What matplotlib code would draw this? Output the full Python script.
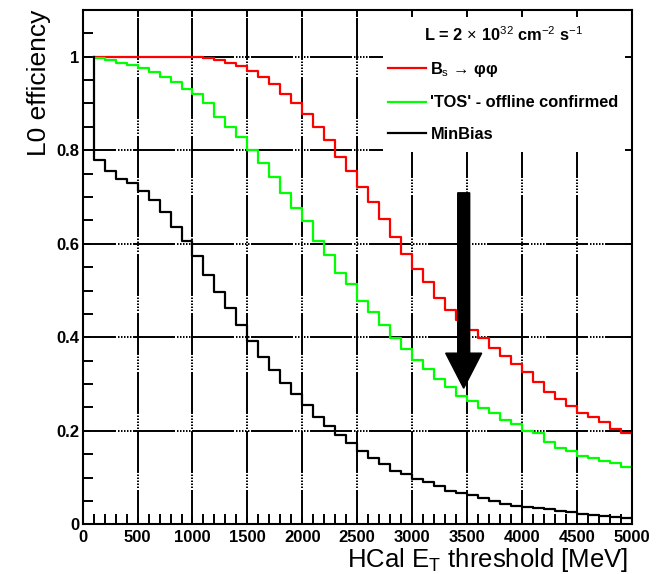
import numpy as np
import matplotlib
matplotlib.use("Agg")
import matplotlib.pyplot as plt
from matplotlib.patches import Rectangle, FancyArrow
from matplotlib.lines import Line2D

plt.rcParams["font.family"] = ["Liberation Sans", "DejaVu Sans"]
plt.rcParams["mathtext.fontset"] = "custom"
plt.rcParams["mathtext.rm"] = "Liberation Sans"
plt.rcParams["mathtext.it"] = "Liberation Sans:italic"
plt.rcParams["mathtext.bf"] = "Liberation Sans:bold"
plt.rcParams["lines.scale_dashes"] = False

# HCal E_T threshold, lower bin edge [MeV]
thresholds = np.arange(100, 5000, 100)

# Bs -> phi phi
eff_bs = [1.0, 1.0, 1.0, 1.0, 1.0, 1.0, 1.0, 1.0, 1.0, 1.0,
          0.998, 0.993, 0.987, 0.980, 0.969, 0.956, 0.941, 0.920, 0.900, 0.877,
          0.849, 0.821, 0.785, 0.756, 0.722, 0.690, 0.653, 0.614, 0.578, 0.545,
          0.519, 0.483, 0.459, 0.437, 0.416, 0.399, 0.378, 0.360, 0.343, 0.326,
          0.305, 0.284, 0.268, 0.254, 0.238, 0.230, 0.218, 0.204, 0.196]

# 'TOS' - offline confirmed
eff_tos = [0.998, 0.992, 0.987, 0.983, 0.976, 0.967, 0.956, 0.945, 0.932, 0.920,
           0.901, 0.872, 0.849, 0.828, 0.800, 0.772, 0.743, 0.709, 0.677, 0.649,
           0.606, 0.577, 0.537, 0.514, 0.478, 0.453, 0.426, 0.398, 0.374, 0.351,
           0.332, 0.311, 0.293, 0.274, 0.264, 0.248, 0.237, 0.223, 0.214, 0.199,
           0.195, 0.177, 0.164, 0.157, 0.146, 0.142, 0.136, 0.132, 0.122]

# MinBias
eff_mb = [0.779, 0.756, 0.738, 0.729, 0.713, 0.694, 0.667, 0.636, 0.605, 0.574,
          0.534, 0.497, 0.462, 0.427, 0.391, 0.358, 0.330, 0.302, 0.278, 0.255,
          0.230, 0.210, 0.191, 0.173, 0.157, 0.142, 0.130, 0.115, 0.107, 0.097,
          0.091, 0.082, 0.071, 0.066, 0.062, 0.056, 0.050, 0.044, 0.040, 0.038,
          0.035, 0.032, 0.029, 0.026, 0.023, 0.020, 0.018, 0.016, 0.014]

series = [
    (eff_bs, "#ff0000", r"B$_{\rm s}$ → φφ"),
    (eff_tos, "#00ff00", "'TOS' - offline confirmed"),
    (eff_mb, "black", "MinBias"),
]

x_major = [0, 500, 1000, 1500, 2000, 2500, 3000, 3500, 4000, 4500, 5000]
y_major = [0, 0.2, 0.4, 0.6, 0.8, 1.0]
y_labels = ["0", "0.2", "0.4", "0.6", "0.8", "1"]

# arrow marking the chosen threshold
arrow_x = 3470
arrow_top = 0.709
arrow_tip = 0.291

PT = 0.72  # px -> pt at dpi 100
grid_dash = (24 * PT, [1.5 * PT, 1.5 * PT] * 5 + [42 * PT, 2 * PT])
grid_dash_v = (23 * PT, [1.5 * PT, 1.5 * PT] * 5 + [42 * PT, 2 * PT])

fig = plt.figure(figsize=(6.6, 5.74), dpi=100)
ax = fig.add_axes([0.1253, 0.0866, 0.8318, 0.896])
ax.set_xlim(0, 5000)
ax.set_ylim(0, 1.1)

# grid, ROOT style
for xv in x_major[1:-1]:
    ax.axvline(xv, color="black", lw=1.4, linestyle=grid_dash_v, zorder=1)
for yv in y_major[1:]:
    ax.axhline(yv, color="black", lw=1.4, linestyle=grid_dash, zorder=1)

# white legend pad hides the grid under it
ax.add_patch(Rectangle((0.547, 0.724), 0.453, 0.276, transform=ax.transAxes,
                       facecolor="white", edgecolor="none", zorder=1.5))

for vals, col, lab in series:
    xs = np.concatenate([[thresholds[0]], thresholds, [5000]])
    ys = np.concatenate([[1.0], vals, [vals[-1]]])
    ax.step(xs, ys, where="post", color=col, lw=1.6, zorder=3)

ax.add_patch(FancyArrow(arrow_x, arrow_top, 0, arrow_tip - arrow_top,
                        width=109, head_width=328, head_length=0.075,
                        length_includes_head=True, color="black", zorder=4))

# ticks
ax.set_xticks(x_major)
ax.set_xticklabels([str(v) for v in x_major])
ax.set_xticks(np.arange(0, 5001, 100), minor=True)
ax.set_yticks(y_major)
ax.set_yticklabels(y_labels)
ax.set_yticks(np.arange(0, 1.1, 0.05), minor=True)
ax.tick_params(which="both", direction="in", top=True, right=True, width=1.4)
ax.tick_params(which="major", length=5)
ax.tick_params(which="minor", length=7, top=False, right=False)
ax.tick_params(axis="x", pad=4, labelsize=12)
ax.tick_params(axis="y", pad=2.5, labelsize=12)
for t in ax.get_xticklabels() + ax.get_yticklabels():
    t.set_fontweight("bold")
for s in ax.spines.values():
    s.set_linewidth(1.5)
    s.set_zorder(5)

ax.set_xlabel(r"HCal E$_{\rm T}$ threshold [MeV]", fontsize=18.5, loc="right")
ax.xaxis.set_label_coords(0.993, -0.042)
ax.set_ylabel("L0 efficiency", fontsize=19, loc="top")
ax.yaxis.set_label_coords(-0.057, 1.0)

handles = [Line2D([], [], color=c, lw=1.6) for _, c, _ in series]
labels = [l for _, _, l in series]
leg = ax.legend(handles, labels, loc="upper left", bbox_to_anchor=(0.557, 0.971),
                frameon=False, borderpad=0, borderaxespad=0,
                handlelength=2.27, handletextpad=0.3, labelspacing=1.0,
                prop={"size": 11.75, "weight": "bold"},
                title=r"L = 2$\,\times\,$10$^{32}$ cm$^{-2}$ s$^{-1}$",
                title_fontproperties={"size": 11.75, "weight": "bold"})
leg.set_zorder(2)

fig.savefig("out.png", dpi=100)
